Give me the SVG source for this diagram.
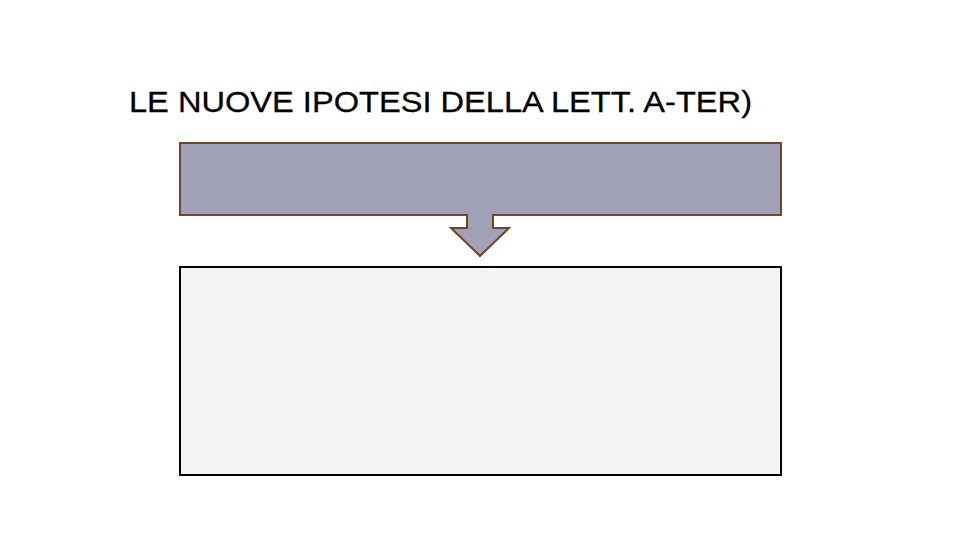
<svg xmlns="http://www.w3.org/2000/svg" width="960" height="540" viewBox="0 0 960 540">
<style>
.title{font-family:"Liberation Sans",Arial,sans-serif;font-size:30px;fill:#000;stroke:#000;stroke-width:0.3}
.box1{fill:#a0a0b6;stroke:#70462a;stroke-width:2}
.box2{fill:#f3f3f3;stroke:#000;stroke-width:2}
</style>
<rect width="960" height="540" fill="#fff"/>
<text class="title" x="129" y="112" textLength="623" lengthAdjust="spacingAndGlyphs">LE NUOVE IPOTESI DELLA LETT. A-TER)</text>
<g id="node-top">
<path class="box1" d="M180,143 H781 V215 H493 V228 H509 L480,256 L451,228 H467 V215 H180 Z"/>
</g>
<g id="node-bottom">
<rect class="box2" x="180" y="267" width="601" height="208"/>
</g>
<g id="connectors"></g>
</svg>
